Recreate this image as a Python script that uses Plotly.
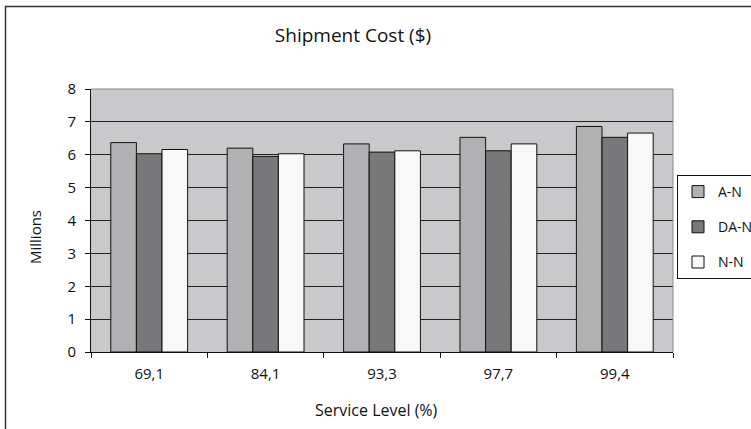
import plotly.graph_objects as go

# Service levels (%) and shipment cost (millions of $) per network configuration
service_levels = ["69,1", "84,1", "93,3", "97,7", "99,4"]
cost_an = [6.37, 6.20, 6.33, 6.53, 6.86]
cost_dan = [6.03, 5.95, 6.08, 6.12, 6.53]
cost_nn = [6.16, 6.03, 6.12, 6.33, 6.66]

series = [
    ("A-N", cost_an, "#b1b1b3"),
    ("DA-N", cost_dan, "#78787a"),
    ("N-N", cost_nn, "#f8f8f8"),
]

FONT = "Open Sans, Liberation Sans, sans-serif"

fig = go.Figure()
for name, values, color in series:
    fig.add_trace(go.Bar(
        x=service_levels,
        y=values,
        name=name,
        legendgroup=name,
        marker=dict(color=color, line=dict(color="#111111", width=1)),
    ))

W, H = 751, 429
L, R, T, B = 91, 78, 89, 77
pw, ph = W - L - R, H - T - B


def px_x(p):
    return (p - L) / pw


def px_y(p):
    return (H - B - p) / ph


fig.update_layout(
    width=W,
    height=H,
    margin=dict(l=L, r=R, t=T, b=B, pad=0, autoexpand=False),
    paper_bgcolor="white",
    plot_bgcolor="#c9c9cb",
    barmode="group",
    bargap=0.34,
    bargroupgap=0,
    font=dict(family=FONT, size=15, color="#111111"),
    title=dict(
        text="Shipment Cost ($)",
        x=353 / W,
        xanchor="center",
        y=1 - 35 / H,
        yanchor="middle",
        font=dict(family=FONT, size=19, color="#111111"),
    ),
    showlegend=True,
    legend=dict(
        xref="container",
        yref="container",
        x=677 / W,
        xanchor="left",
        y=1 - 175 / H,
        yanchor="top",
        bgcolor="white",
        bordercolor="#111111",
        borderwidth=1,
        tracegroupgap=14,
        font=dict(family=FONT, size=14, color="#111111"),
    ),
    xaxis=dict(
        showline=True,
        linecolor="#111111",
        linewidth=1,
        ticks="outside",
        tickson="boundaries",
        ticklen=5,
        tickcolor="#111111",
        ticklabelstandoff=8,
        tickfont=dict(family=FONT, size=15),
        showgrid=False,
    ),
    yaxis=dict(
        range=[0, 8],
        tickvals=[0, 1, 2, 3, 4, 5, 6, 7, 8],
        showline=True,
        linecolor="#111111",
        linewidth=1,
        ticks="outside",
        ticklen=5,
        tickcolor="#111111",
        ticklabelstandoff=6,
        tickfont=dict(family=FONT, size=15),
        showgrid=True,
        gridcolor="#222222",
        gridwidth=1,
        zeroline=False,
    ),
    annotations=[
        dict(
            text="Millions",
            xref="paper", yref="paper",
            x=px_x(35), y=px_y(237),
            xanchor="center", yanchor="middle",
            textangle=-90,
            showarrow=False,
            font=dict(family=FONT, size=15, color="#111111"),
        ),
        dict(
            text="Service Level (%)",
            xref="paper", yref="paper",
            x=px_x(376), y=px_y(410),
            xanchor="center", yanchor="middle",
            showarrow=False,
            font=dict(family=FONT, size=16, color="#111111"),
        ),
    ],
    shapes=[
        # lighter frame on the top and right edges of the plot area
        dict(type="line", xref="paper", yref="paper", x0=0, x1=1, y0=1, y1=1,
             line=dict(color="#8a8a8c", width=1), layer="above"),
        dict(type="line", xref="paper", yref="paper", x0=1, x1=1, y0=0, y1=1,
             line=dict(color="#8a8a8c", width=1), layer="above"),
        # outer chart border
        dict(type="rect", xref="paper", yref="paper",
             x0=px_x(5.5), x1=px_x(800), y0=px_y(6.5), y1=px_y(480),
             line=dict(color="#333333", width=1.5), layer="below"),
    ],
)

fig.write_html("out.html")
